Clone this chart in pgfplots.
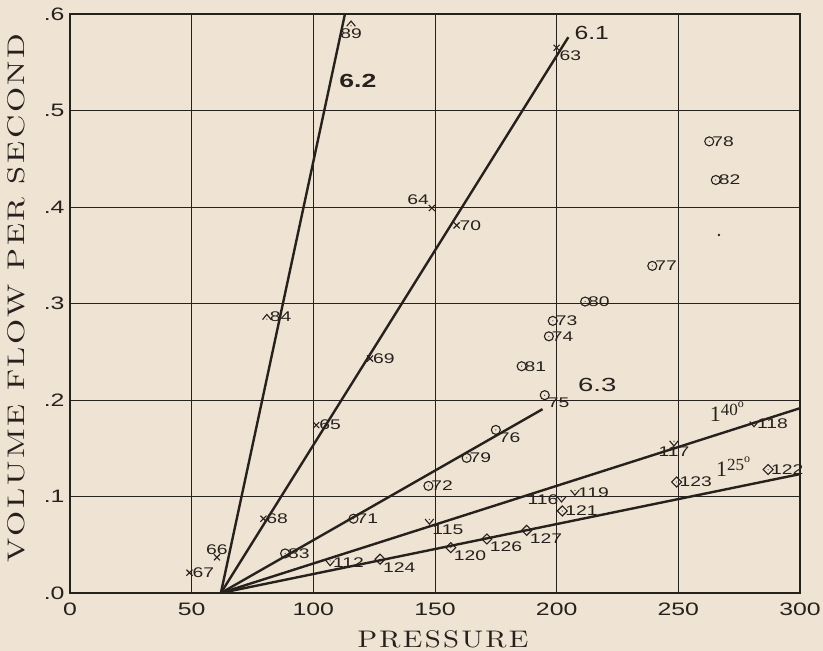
\documentclass[border=0pt]{standalone}
\usepackage{fontspec}
\usepackage{graphicx}
\usepackage{pgfplots}
\pgfplotsset{compat=1.18}
\newfontfamily\lab{Liberation Sans}
\newfontfamily\labser{Liberation Serif}
\newfontfamily\ttl[LetterSpace=8, Extension=.otf]{lmroman10-regular}
\newcommand\sx[1]{\scalebox{1.38}[1]{#1}}
\definecolor{bg}{RGB}{239,228,211}
\definecolor{ink}{RGB}{38,33,29}

\pgfdeclareplotmark{odot}{%
 \pgfpathcircle{\pgfpointorigin}{\pgfplotmarksize}\pgfusepathqstroke
 \pgfpathcircle{\pgfpointorigin}{0.6pt}\pgfusepathqfill}
\pgfdeclareplotmark{ddot}{%
 \pgfpathmoveto{\pgfpoint{0pt}{\pgfplotmarksize}}%
 \pgfpathlineto{\pgfpoint{\pgfplotmarksize}{0pt}}%
 \pgfpathlineto{\pgfpoint{0pt}{-\pgfplotmarksize}}%
 \pgfpathlineto{\pgfpoint{-\pgfplotmarksize}{0pt}}%
 \pgfpathclose\pgfusepathqstroke
 \pgfpathcircle{\pgfpointorigin}{0.6pt}\pgfusepathqfill}
\pgfdeclareplotmark{caret}{%
 \pgfpathmoveto{\pgfpoint{-\pgfplotmarksize}{-0.6\pgfplotmarksize}}%
 \pgfpathlineto{\pgfpoint{0pt}{0.6\pgfplotmarksize}}%
 \pgfpathlineto{\pgfpoint{\pgfplotmarksize}{-0.6\pgfplotmarksize}}%
 \pgfusepathqstroke
 \pgfpathcircle{\pgfpoint{0pt}{-0.5\pgfplotmarksize}}{0.6pt}\pgfusepathqfill}
\pgfdeclareplotmark{vdot}{%
 \pgfpathmoveto{\pgfpoint{-\pgfplotmarksize}{0.6\pgfplotmarksize}}%
 \pgfpathlineto{\pgfpoint{0pt}{-0.6\pgfplotmarksize}}%
 \pgfpathlineto{\pgfpoint{\pgfplotmarksize}{0.6\pgfplotmarksize}}%
 \pgfusepathqstroke
 \pgfpathcircle{\pgfpoint{0pt}{0.5\pgfplotmarksize}}{0.6pt}\pgfusepathqfill}

\pgfplotsset{
  lbl/.style={only marks, nodes near coords={\sx{\pgfplotspointmeta}}, point meta=explicit symbolic,
    nodes near coords style={anchor=#1, font=\lab\fontsize{14}{15}\selectfont, text=ink, inner sep=2.5pt}},
  xs/.style={mark=x, mark size=4.3pt, mark options={line width=1.1pt}},
  cs/.style={mark=caret, mark size=4.3pt, mark options={line width=1.1pt}},
  os/.style={mark=odot, mark size=4.5pt, mark options={line width=1.1pt}},
  vs/.style={mark=vdot, mark size=4.3pt, mark options={line width=1.1pt}},
  ds/.style={mark=ddot, mark size=5pt, mark options={line width=1.1pt}},
}

\begin{document}
\begin{tikzpicture}
\path[use as bounding box, fill=bg] (-70pt,-58pt) rectangle (753pt,593pt);
\begin{axis}[
  at={(0pt,0pt)}, anchor=south west,
  scale only axis, width=730pt, height=579pt,
  xmin=0, xmax=300, ymin=0, ymax=0.6,
  xtick={0,50,100,150,200,250,300},
  ytick={0,0.1,0.2,0.3,0.4,0.5,0.6},
  xticklabels={\sx{0},\sx{50},\sx{100},\sx{150},\sx{200},\sx{250},\sx{300}},
  yticklabels={\sx{.0},\sx{.1},\sx{.2},\sx{.3},\sx{.4},\sx{.5},\sx{.6}},
  /pgf/number format/assume math mode=true,
  grid=major, grid style={ink, line width=0.9pt},
  axis line style={ink, line width=1.3pt},
  tick style={draw=none},
  ticklabel style={font=\lab\fontsize{18}{20}\selectfont, text=ink},
  xticklabel style={yshift=-6pt},
  yticklabel style={xshift=-2pt},
  xlabel={\ttl\fontsize{24}{26}\selectfont\scalebox{1.2}[1]{PRESSURE}},
  ylabel={\ttl\fontsize{24}{26}\selectfont\scalebox{1.35}[1]{VOLUME FLOW PER SECOND}},
  label style={text=ink, inner sep=0pt},
  xlabel style={at={(axis description cs:0.511,-0.0795)}, anchor=center},
  ylabel style={at={(axis description cs:-0.073,0.51)}, anchor=center},
  clip=true,
  every axis plot/.append style={ink},
]
% fitted lines
\addplot[ink, line width=2.4pt, no marks] coordinates {(62,0) (113,0.6)};
\addplot[ink, line width=2.4pt, no marks] coordinates {(62,0) (204.8,0.576)};
\addplot[ink, line width=2.4pt, no marks] coordinates {(62,0) (194.2,0.1905)};
\addplot[ink, line width=2.4pt, no marks] coordinates {(62,0) (300,0.1915)};
\addplot[ink, line width=2.4pt, no marks] coordinates {(62,0) (300,0.1232)};
% crosses
\addplot[lbl=west, xs] coordinates {(158.9,0.381)[70] (123.3,0.243)[69] (101.2,0.174)[65] (79.5,0.077)[68] (49.1,0.021)[67]};
\addplot[lbl=north west, xs] coordinates {(200.0,0.565)[63]};
\addplot[lbl=south east, xs] coordinates {(148.7,0.399)[64]};
\addplot[lbl=south, xs] coordinates {(60.4,0.037)[66]};
% carets
\addplot[lbl=north, cs, nodes near coords style={yshift=-2pt}] coordinates {(115.5,0.590)[89]};
\addplot[lbl=west, cs] coordinates {(80.9,0.286)[84]};
% circles
\addplot[lbl=west, os] coordinates {(262.7,0.468)[78] (265.4,0.428)[82] (239.3,0.339)[77] (211.7,0.302)[80] (198.4,0.282)[73] (196.8,0.266)[74] (185.6,0.235)[81] (163.0,0.140)[79] (147.3,0.111)[72] (116.5,0.077)[71] (88.4,0.041)[83]};
\addplot[lbl=north west, os] coordinates {(195.1,0.205)[75] (175.0,0.169)[76]};
% checks
\addplot[lbl=west, vs] coordinates {(281.1,0.175)[118] (207.5,0.104)[119] (106.9,0.031)[112]};
\addplot[lbl=north, vs] coordinates {(248.2,0.155)[117]};
\addplot[lbl=east, vs] coordinates {(202.0,0.097)[116]};
\addplot[lbl=north west, vs] coordinates {(147.7,0.074)[115]};
% diamonds
\addplot[lbl=west, ds] coordinates {(286.9,0.128)[122] (249.3,0.115)[123] (202.3,0.085)[121]};
\addplot[lbl=north west, ds] coordinates {(187.7,0.065)[127] (171.3,0.056)[126] (156.5,0.047)[120] (127.4,0.035)[124]};
% stray dot
\addplot[only marks, mark=*, mark size=1pt] coordinates {(266.7,0.371)};
% line labels
\node[font=\lab\bfseries\fontsize{19}{20}\selectfont, text=ink] at (axis cs:118.3,0.531) {\scalebox{1.4}[1]{6.2}};
\node[font=\lab\fontsize{19}{20}\selectfont, text=ink] at (axis cs:214.4,0.580) {\scalebox{1.3}[1]{6.1}};
\node[font=\lab\fontsize{19}{20}\selectfont, text=ink] at (axis cs:216.7,0.216) {\scalebox{1.45}[1]{6.3}};
\node[font=\labser\fontsize{22}{24}\selectfont, text=ink] at (axis cs:270,0.188) {1\raisebox{6pt}{\fontsize{17}{18}\selectfont 40}\raisebox{14pt}{\fontsize{12}{12}\selectfont o}};
\node[font=\labser\fontsize{22}{24}\selectfont, text=ink] at (axis cs:272.5,0.131) {1\raisebox{6pt}{\fontsize{17}{18}\selectfont 25}\raisebox{14pt}{\fontsize{12}{12}\selectfont o}};
\end{axis}
\draw[ink, line width=2.8pt] (0pt,579pt) -- (0pt,0pt) -- (730pt,0pt);
\end{tikzpicture}
\end{document}
